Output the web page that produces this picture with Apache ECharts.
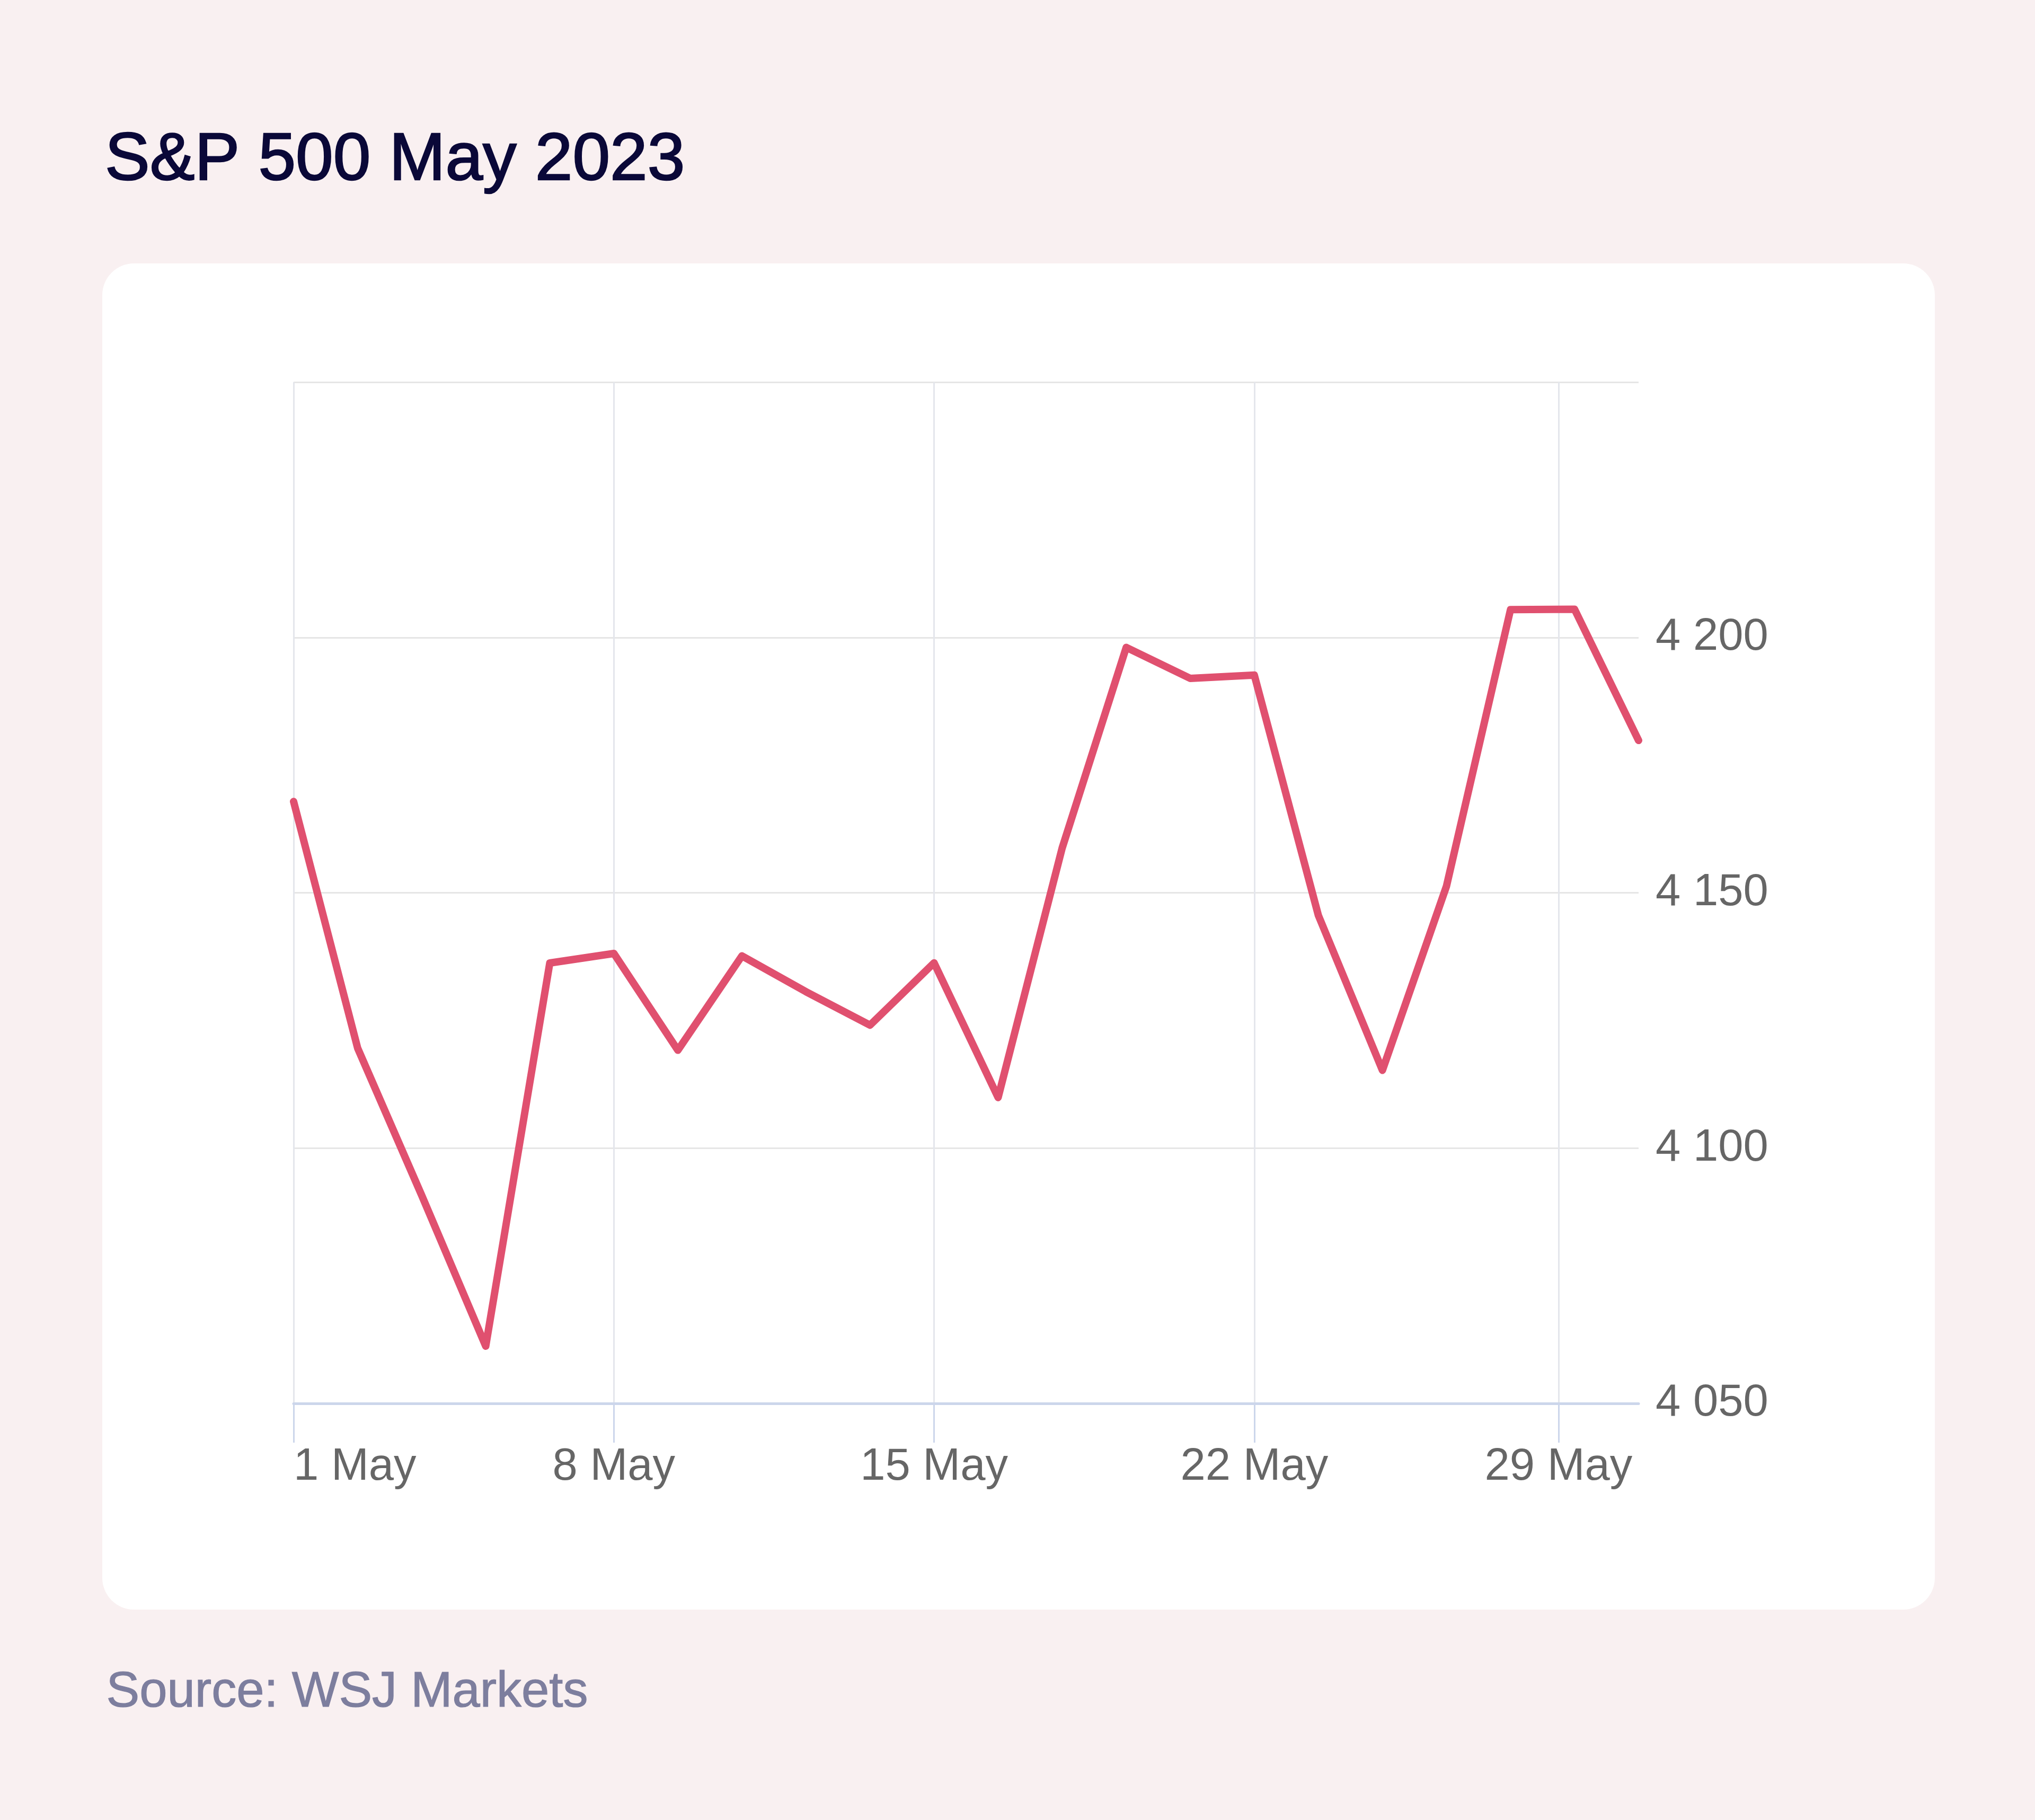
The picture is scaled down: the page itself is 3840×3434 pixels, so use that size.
<!DOCTYPE html>
<html>
<head>
<meta charset="utf-8">
<title>S&amp;P 500 May 2023</title>
<script src="https://cdn.jsdelivr.net/npm/echarts@6/dist/echarts.min.js"></script>
<style>
  html, body { margin: 0; padding: 0; background: #f9f0f1; }
  #chart { width: 3840px; height: 3434px; }
</style>
</head>
<body>
<div id="chart"></div>
<script>
// trading days of May 2023 (29 May was a holiday)
const tradingDays = [1, 2, 3, 4, 5, 8, 9, 10, 11, 12, 15, 16, 17, 18, 19, 22, 23, 24, 25, 26, 30, 31];
const closes = [4167.87, 4119.58, 4090.75, 4061.22, 4136.25, 4138.12, 4119.17, 4137.64, 4130.62, 4124.08,
                4136.28, 4109.90, 4158.77, 4198.05, 4191.98, 4192.63, 4145.58, 4115.24, 4151.28, 4205.45,
                4205.52, 4179.83];
const tickDays = [1, 8, 15, 22, 29];
const tickLabels = ['1 May', '8 May', '15 May', '22 May', '29 May'];
const yTicks = [4050, 4100, 4150, 4200, 4250];

const FONT = '"Liberation Sans", Arial, sans-serif';

// ordinal position of a calendar day on a trading-day axis (holidays/weekends interpolated)
function ordinalPos(day) {
    for (let i = 0; i < tradingDays.length - 1; i++) {
        if (day >= tradingDays[i] && day < tradingDays[i + 1]) {
            return i + (day - tradingDays[i]) / (tradingDays[i + 1] - tradingDays[i]);
        }
    }
    return tradingDays.length - 1;
}

const tickPos = tickDays.map(ordinalPos);
const seriesData = closes.map((v, i) => [i, v]);

function fmtThousands(v) {
    return String(v).replace(/\B(?=(\d{3})+(?!\d))/g, ' ');
}

const chart = echarts.init(document.getElementById('chart'));

const option = {
    backgroundColor: '#f9f0f1',
    animation: false,
    title: {
        text: 'S&P 500 May 2023',
        left: 198,
        top: 240,
        padding: 0,
        textStyle: {
            fontFamily: FONT, fontWeight: 'normal', fontSize: 127, color: '#0a0838',
            textBorderColor: '#0a0838', textBorderWidth: 2.5
        }
    },
    graphic: [
        {
            type: 'rect', z: -10, silent: true,
            shape: { x: 193, y: 497, width: 3458, height: 2540, r: 60 },
            style: { fill: '#ffffff' }
        },
        {
            type: 'text', silent: true,
            left: 200, top: 3146,
            style: {
                text: 'Source: WSJ Markets', fontFamily: FONT, fontSize: 94, fill: '#7d7e9e',
                stroke: '#7d7e9e', lineWidth: 1.2
            }
        }
    ],
    grid: { left: 554, right: 748, top: 721, bottom: 786, containLabel: false },
    xAxis: {
        type: 'value',
        min: 0,
        max: tradingDays.length - 1,
        axisLine: { show: true, lineStyle: { color: '#ccd6eb', width: 5 } },
        axisTick: { show: true, length: 74, customValues: tickPos, lineStyle: { color: '#ccd6eb', width: 3 } },
        axisLabel: {
            customValues: tickPos,
            formatter: (v) => {
                const k = tickPos.findIndex(p => Math.abs(p - v) < 1e-6);
                return k >= 0 ? tickLabels[k] : '';
            },
            alignMinLabel: 'left',
            margin: 78,
            fontFamily: FONT,
            fontSize: 85,
            color: '#666666'
        },
        splitLine: { show: true, lineStyle: { color: '#e4e6ec', width: 3 } }
    },
    yAxis: {
        type: 'value',
        position: 'right',
        min: yTicks[0],
        max: yTicks[yTicks.length - 1],
        interval: 50,
        axisLine: { show: false },
        axisTick: { show: false },
        axisLabel: {
            showMaxLabel: false,
            margin: 32,
            formatter: fmtThousands,
            fontFamily: FONT,
            fontSize: 85,
            color: '#666666'
        },
        splitLine: { show: true, lineStyle: { color: '#e6e6e6', width: 3 } }
    },
    series: [{
        type: 'line',
        data: seriesData,
        symbol: 'none',
        clip: true,
        lineStyle: { color: '#e0506f', width: 14, join: 'round', cap: 'round' },
        z: 5
    }]
};

chart.setOption(option);
window.addEventListener('resize', () => chart.resize());
</script>
</body>
</html>
